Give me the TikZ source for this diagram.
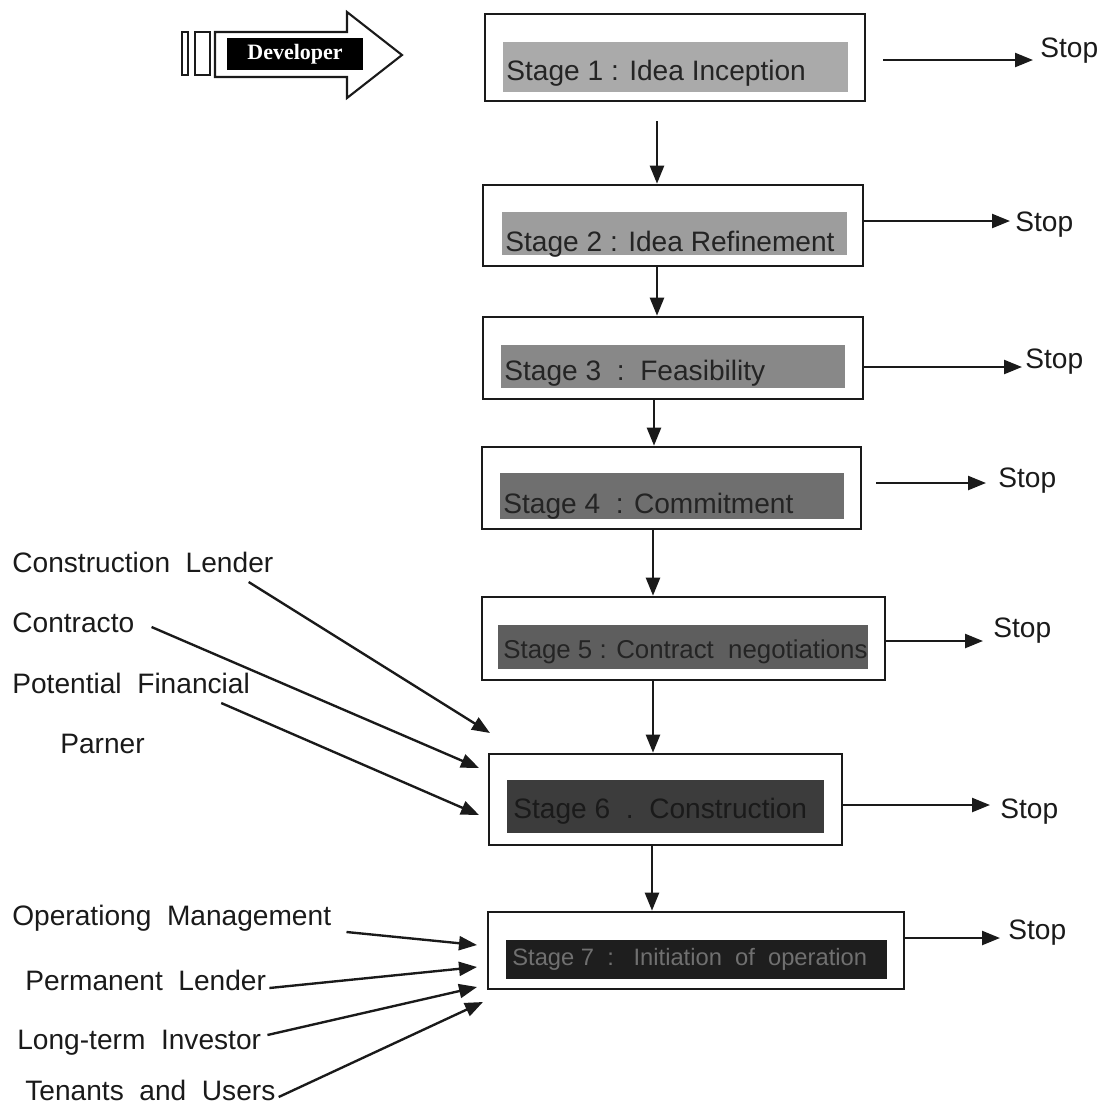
\documentclass[tikz,border=0pt]{standalone}
\usepackage{fontspec}
\setmainfont{Liberation Sans}
\newfontfamily\devfont{Liberation Serif}
\usetikzlibrary{arrows.meta,fit,calc}

% band colours, lightest for the first stage, darkest for the last
\definecolor{band1}{HTML}{AAAAAA}
\definecolor{band2}{HTML}{9D9D9D}
\definecolor{band3}{HTML}{888888}
\definecolor{band4}{HTML}{6F6F6F}
\definecolor{band5}{HTML}{5E5E5E}
\definecolor{band6}{HTML}{3C3C3C}
\definecolor{band7}{HTML}{1E1E1E}
\definecolor{ink}{HTML}{1A1A1A}
\definecolor{bandtext}{HTML}{242424}
\definecolor{lasttext}{HTML}{707070}

\begin{document}
\begin{tikzpicture}[x=0.02cm,y=-0.02cm,
  lbl/.style={font=\fontsize{16}{19}\selectfont, text=ink, inner sep=0pt, anchor=base west},
  stoplbl/.style={lbl},
  outerbox/.style={draw=ink, line width=1.5pt, inner sep=0pt},
  stagetxt/.style={font=\fontsize{16}{19}\selectfont, text=bandtext, inner sep=0pt, anchor=base west},
  arr/.style={draw=ink, line width=1.35pt, -{Triangle[length=0.36cm,width=0.28cm]}},
  devline/.style={draw=ink, line width=1.2pt},
]
\useasboundingbox (0,0) rectangle (1103,1110);

% ---------------- developer arrow ----------------
\draw[devline, fill=white] (215,32) -- (347,32) -- (347,12) -- (402,55)
  -- (347,98) -- (347,77) -- (215,77) -- cycle;
\draw[devline] (182,32) rectangle (188,75);
\draw[devline] (195,32) rectangle (210,75);
\node[fill=black, text=white, inner sep=0pt, minimum width=2.72cm, minimum height=0.64cm,
      font=\devfont\bfseries\fontsize{12.5}{14}\selectfont] (dev) at (295,54) {Developer};

% ---------------- stage boxes ----------------
\path (485,14) coordinate (s1nw) (865,101) coordinate (s1se);
\node[outerbox, fit=(s1nw)(s1se)] (s1) {};
\fill[band1] (503,42) rectangle (848,92);
\node[stagetxt] (s1t) at (506,80) {Stage 1 : Idea Inception};

\path (483,185) coordinate (s2nw) (863,266) coordinate (s2se);
\node[outerbox, fit=(s2nw)(s2se)] (s2) {};
\fill[band2] (502,212) rectangle (847,255);
\node[stagetxt] (s2t) at (505,251) {Stage 2 : Idea Refinement};

\path (483,317) coordinate (s3nw) (863,399) coordinate (s3se);
\node[outerbox, fit=(s3nw)(s3se)] (s3) {};
\fill[band3] (501,345) rectangle (845,388);
\node[stagetxt] (s3t) at (504,380) {Stage 3~~:~~Feasibility};

\path (482,447) coordinate (s4nw) (861,529) coordinate (s4se);
\node[outerbox, fit=(s4nw)(s4se)] (s4) {};
\fill[band4] (500,473) rectangle (844,519);
\node[stagetxt] (s4t) at (503,513) {Stage 4~~: Commitment};

\path (482,597) coordinate (s5nw) (885,680) coordinate (s5se);
\node[outerbox, fit=(s5nw)(s5se)] (s5) {};
\fill[band5] (498,625) rectangle (868,669);
\node[stagetxt, font=\fontsize{14.7}{17}\selectfont] (s5t) at (503,658) {Stage 5 : Contract~~negotiations};

\path (489,754) coordinate (s6nw) (842,845) coordinate (s6se);
\node[outerbox, fit=(s6nw)(s6se)] (s6) {};
\fill[band6] (507,780) rectangle (824,833);
\node[stagetxt, text=ink] (s6t) at (513,818) {Stage 6~~.~~Construction};

\path (488,912) coordinate (s7nw) (904,989) coordinate (s7se);
\node[outerbox, fit=(s7nw)(s7se)] (s7) {};
\fill[band7] (506,940) rectangle (887,979);
\node[stagetxt, text=lasttext, font=\fontsize{13.5}{16}\selectfont] (s7t) at (512,965) {Stage 7~~:~~~Initiation~~of~~operation};

% ---------------- flow between stages ----------------
\coordinate (v1) at (657,0);
\coordinate (v2) at (657,0);
\coordinate (v3) at (654,0);
\coordinate (v4) at (653,0);
\coordinate (v5) at (653,0);
\coordinate (v6) at (652,0);
\draw[arr, shorten <=0.38cm] (v1 |- s1.south) -- (v1 |- s2.north);
\draw[arr] (v2 |- s2.south) -- (v2 |- s3.north);
\draw[arr] (v3 |- s3.south) -- (v3 |- s4.north);
\draw[arr] (v4 |- s4.south) -- (v4 |- s5.north);
\draw[arr] (v5 |- s5.south) -- (v5 |- s6.north);
\draw[arr] (v6 |- s6.south) -- (v6 |- s7.north);

% ---------------- stop exits ----------------
\node[stoplbl] (t1) at (1040,57) {Stop};
\node[stoplbl] (t2) at (1015,231) {Stop};
\node[stoplbl] (t3) at (1025,368) {Stop};
\node[stoplbl] (t4) at (998,487) {Stop};
\node[stoplbl] (t5) at (993,637) {Stop};
\node[stoplbl] (t6) at (1000,818) {Stop};
\node[stoplbl] (t7) at (1008,939) {Stop};
\coordinate (y1) at (0,60);
\coordinate (y2) at (0,221);
\coordinate (y3) at (0,367);
\coordinate (y4) at (0,483);
\coordinate (y5) at (0,641);
\coordinate (y6) at (0,805);
\coordinate (y7) at (0,938);
\draw[arr, shorten <=0.34cm, shorten >=0.14cm] (s1.east |- y1) -- (t1.west |- y1);
\draw[arr, shorten >=0.10cm] (s2.east |- y2) -- (t2.west |- y2);
\draw[arr, shorten >=0.06cm] (s3.east |- y3) -- (t3.west |- y3);
\draw[arr, shorten <=0.28cm, shorten >=0.24cm] (s4.east |- y4) -- (t4.west |- y4);
\draw[arr, shorten >=0.20cm] (s5.east |- y5) -- (t5.west |- y5);
\draw[arr, shorten >=0.20cm] (s6.east |- y6) -- (t6.west |- y6);
\draw[arr, shorten >=0.16cm] (s7.east |- y7) -- (t7.west |- y7);

% ---------------- parties joining construction ----------------
\node[lbl] (l1) at (12,572) {Construction~~Lender};
\node[lbl] (l2) at (12,632) {Contracto};
\node[lbl] (l3) at (12,693) {Potential~~Financial};
\node[lbl] (l4) at (60,753) {Parner};
\coordinate (c1) at (490,733);
\coordinate (c2) at (479,768);
\coordinate (c3) at (479,815);
\draw[arr] ($(l1.base east)+(-25,10)$) -- (c1);
\draw[arr] ($(l2.base east)+(17,-5)$) -- (c2);
\draw[arr] ($(l3.base east)+(-29,10)$) -- (c3);

% ---------------- parties joining operation ----------------
\node[lbl] (l5) at (12,925) {Operationg~~Management};
\node[lbl] (l6) at (25,990) {Permanent~~Lender};
\node[lbl] (l7) at (17,1049) {Long-term~~Investor};
\node[lbl] (l8) at (25,1100) {Tenants~~and~~Users};
\coordinate (c5) at (477,945);
\coordinate (c6) at (477,967);
\coordinate (c7) at (477,987);
\coordinate (c8) at (483,1002);
\draw[arr] ($(l5.base east)+(15,7)$) -- (c5);
\draw[arr] ($(l6.base east)+(3,-2)$) -- (c6);
\draw[arr] ($(l7.base east)+(6,-14)$) -- (c7);
\draw[arr] ($(l8.base east)+(3,-3)$) -- (c8);
\end{tikzpicture}
\end{document}
